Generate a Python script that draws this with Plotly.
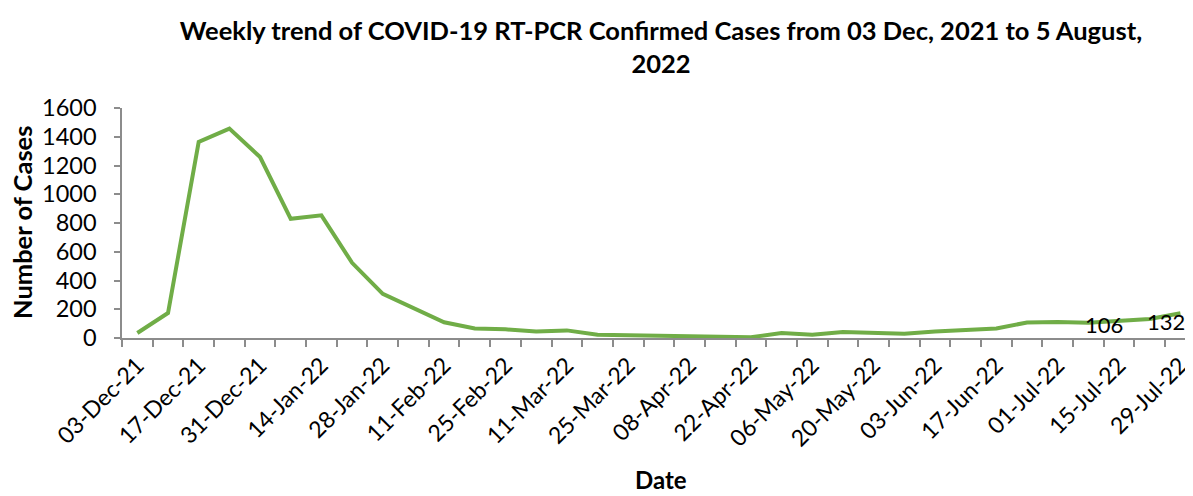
import plotly.graph_objects as go

weeks = ["03-Dec-21", "10-Dec-21", "17-Dec-21", "24-Dec-21", "31-Dec-21", "07-Jan-22",
         "14-Jan-22", "21-Jan-22", "28-Jan-22", "04-Feb-22", "11-Feb-22", "18-Feb-22",
         "25-Feb-22", "04-Mar-22", "11-Mar-22", "18-Mar-22", "25-Mar-22", "01-Apr-22",
         "08-Apr-22", "15-Apr-22", "22-Apr-22", "29-Apr-22", "06-May-22", "13-May-22",
         "20-May-22", "27-May-22", "03-Jun-22", "10-Jun-22", "17-Jun-22", "24-Jun-22",
         "01-Jul-22", "08-Jul-22", "15-Jul-22", "22-Jul-22", "29-Jul-22"]
cases = [35, 174, 1364, 1457, 1259, 829, 853, 523, 307, 205, 109, 66,
         60, 46, 53, 22, 18, 20, 14, 12, 6, 34, 22, 42, 36, 30,
         46, 58, 66, 108, 112, 106, 120, 132, 172]
labelled_weeks = ["08-Jul-22", "22-Jul-22"]
y_ticks = [0, 200, 400, 600, 800, 1000, 1200, 1400, 1600]

idx = list(range(len(weeks)))
label_idx = idx[::2]

FONT = "Lato"
GREEN = "#70AD47"
AXIS = "#8C8C8C"

# The page body adds an 8px margin, so the figure is drawn 8px smaller
W, H = 1185, 488
L, T, B = 114, 100, 158

fig = go.Figure()
fig.add_trace(go.Scatter(
    x=idx, y=cases, mode="lines",
    line=dict(color=GREEN, width=4),
    hoverinfo="skip", showlegend=False,
))

for w in labelled_weeks:
    i = weeks.index(w)
    fig.add_annotation(x=i, y=cases[i], text=str(cases[i]), showarrow=False,
                       xshift=16, yshift=-2,
                       font=dict(family=FONT, size=22, color="#000000"))

fig.update_layout(
    width=W, height=H,
    margin=dict(l=L, r=0, t=T, b=B),
    plot_bgcolor="white", paper_bgcolor="white",
    font=dict(family=FONT, size=22, color="#000000"),
    title=dict(
        text="<b>Weekly trend of COVID-19 RT-PCR Confirmed Cases from 03 Dec, 2021 to 5 August,<br>2022</b>",
        x=653 / W, xanchor="center", y=1 - 32 / H, yanchor="top",
        font=dict(family=FONT, size=25.5, color="#000000"),
    ),
    xaxis=dict(
        range=[-0.5, 34.41], automargin=False,
        tickmode="array", tickvals=label_idx, ticktext=[weeks[i] for i in label_idx],
        tickangle=-45, ticks="", showgrid=False, zeroline=False,
        showline=True, linecolor=AXIS, linewidth=1.5,
        ticklabelstandoff=3,
        tickfont=dict(family=FONT, size=23, color="#000000"),
        minor=dict(tickmode="linear", tick0=-0.5, dtick=1, ticks="outside",
                   ticklen=7, tickcolor=AXIS, tickwidth=1.5, showgrid=False),
    ),
    yaxis=dict(
        range=[0, 1600], automargin=False, tickmode="array", tickvals=y_ticks,
        ticks="outside", ticklen=6, tickcolor=AXIS, tickwidth=1.5,
        showgrid=False, zeroline=False,
        showline=True, linecolor=AXIS, linewidth=1.5,
        ticklabelstandoff=13,
        tickfont=dict(family=FONT, size=23.5, color="#000000"),
    ),
)

fig.add_annotation(xref="paper", yref="paper", x=(14 - L) / (W - L), y=0.5,
                   xanchor="center", yanchor="middle",
                   text="<b>Number of Cases</b>", textangle=-90, showarrow=False,
                   font=dict(family=FONT, size=25.5, color="#000000"))
fig.add_annotation(xref="paper", yref="paper", x=(653 - L) / (W - L), y=0,
                   yshift=-(B - 1), yanchor="bottom", borderpad=0,
                   text="<b>Date</b>", showarrow=False,
                   font=dict(family=FONT, size=24, color="#000000"))

fig.write_html("out.html")
